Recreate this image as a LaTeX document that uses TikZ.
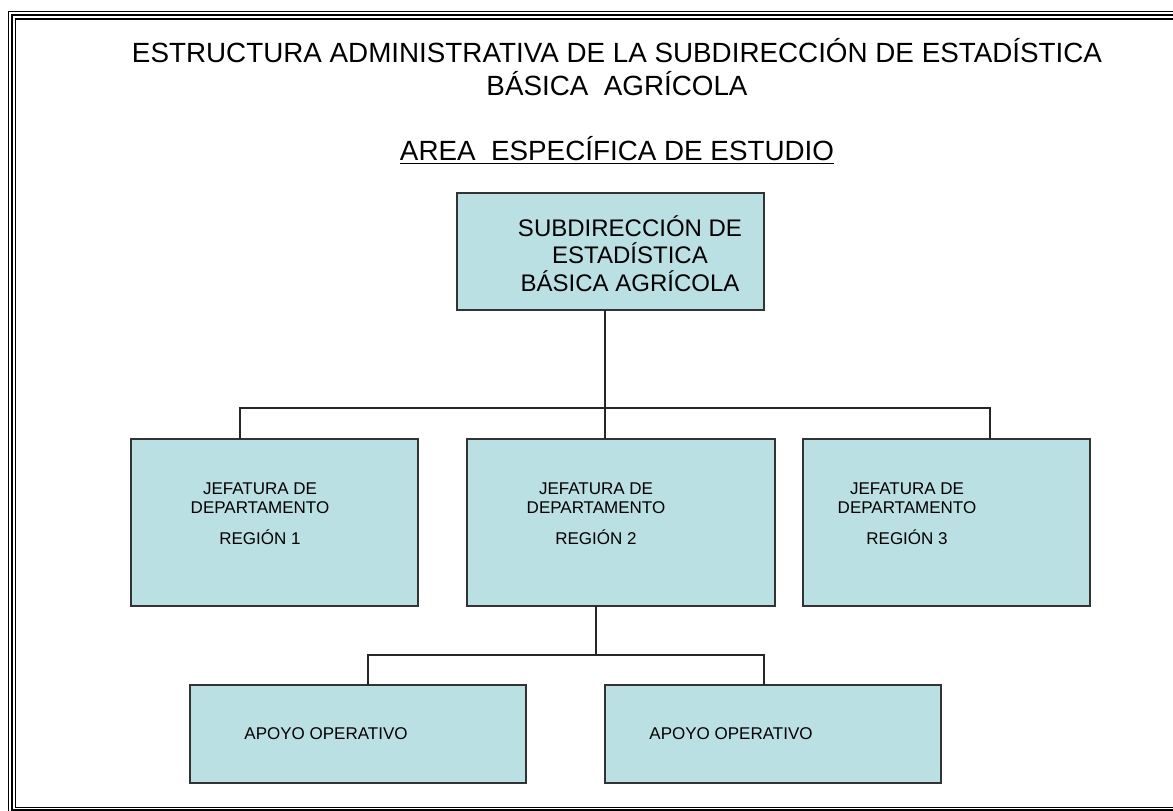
\documentclass[tikz,border=0pt]{standalone}
\usepackage{fontspec}
\setmainfont{Liberation Sans}
\usetikzlibrary{positioning}
\definecolor{boxblue}{RGB}{187,224,227}

\begin{document}
\begin{tikzpicture}[
    x=0.5pt, y=-0.5pt,
    box_node/.style={rectangle, draw=black!80, fill=boxblue, line width=0.75pt, inner sep=0pt, outer sep=0pt},
    chief_node/.style={box_node, minimum width=153.5pt, minimum height=58.5pt},
    region_node/.style={box_node, minimum width=143.5pt, minimum height=83.5pt},
    support_node/.style={box_node, minimum width=168pt, minimum height=49pt},
    title_text/.style={align=center, inner sep=0pt, anchor=base, font=\fontsize{13.9}{16.5}\selectfont},
    chief_text/.style={align=center, inner sep=0pt, anchor=base, font=\fontsize{12}{13.75}\selectfont},
    region_text/.style={align=center, inner sep=0pt, anchor=base, font=\fontsize{8.5}{9.5}\selectfont},
    link/.style={draw=black!85, line width=0.6pt},
    frame_thin/.style={line width=0.7pt},
    frame_thick/.style={line width=1.3pt}
]
\useasboundingbox (0,0) rectangle (1173,810);

% Page frame
\begin{scope}
\clip (0,0) rectangle (1173,810);
\draw[frame_thin] (8.5,11.5) rectangle (1200,830);
\draw[frame_thick] (12,15) rectangle (1190,810.5);
\draw[frame_thin] (15.7,19) rectangle (1180,807.5);
\end{scope}

% Headings (base = last line)
\node[title_text] (title) at (617,95) {ESTRUCTURA ADMINISTRATIVA DE LA SUBDIRECCIÓN DE ESTADÍSTICA\\BÁSICA\ \ AGRÍCOLA};
\node[title_text] (area) at (617,160) {\underline{AREA\ \ ESPECÍFICA DE ESTUDIO}};

% Subdirection
\node[chief_node] (sub) at (610.5,251.5) {};
\node[chief_text] (sub_txt) at (630,291) {SUBDIRECCIÓN DE\\ESTADÍSTICA\\BÁSICA AGRÍCOLA};

% Regional departments
\node[region_node] (r1) at (274.5,522.5) {};
\node[region_node, minimum width=154pt, right=24.5pt of r1] (r2) {};
\node[region_node, right=14pt of r2] (r3) {};

\node[region_text] (r1_txt) at (260,544) {JEFATURA DE\\DEPARTAMENTO\\[6pt]REGIÓN 1};
\node[region_text] (r2_txt) at (596,544) {JEFATURA DE\\DEPARTAMENTO\\[6pt]REGIÓN 2};
\node[region_text] (r3_txt) at (907,544) {JEFATURA DE\\DEPARTAMENTO\\[6pt]REGIÓN 3};

% Operative support
\node[support_node] (a1) at (358,734) {};
\node[support_node, right=39.5pt of a1] (a2) {};

\node[region_text] (a1_txt) at (326,739) {APOYO OPERATIVO};
\node[region_text] (a2_txt) at (731,739) {APOYO OPERATIVO};

% Connectors
\coordinate (x_main) at (605,0);
\coordinate (x_r1) at (240,0);
\coordinate (x_r3) at (990,0);
\coordinate (bus_top) at (605,408);
\draw[link] (sub.south -| x_main) -- (bus_top);
\draw[link] (r1.north -| x_r1) |- (bus_top) -| (r3.north -| x_r3);
\draw[link] (bus_top) -- (r2.north -| x_main);

\coordinate (x_r2) at (596,0);
\coordinate (x_a1) at (368,0);
\coordinate (x_a2) at (764,0);
\coordinate (bus_low) at (596,655);
\draw[link] (r2.south -| x_r2) -- (bus_low);
\draw[link] (a1.north -| x_a1) |- (bus_low) -| (a2.north -| x_a2);

\end{tikzpicture}
\end{document}
